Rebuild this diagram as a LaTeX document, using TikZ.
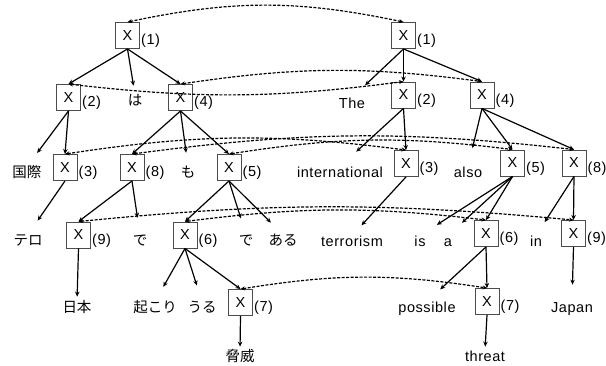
\documentclass[tikz,border=0pt]{standalone}
\usepackage{fontspec}
\setmainfont{Liberation Sans}[LetterSpace=4]
\newfontfamily\jpfont{Noto Sans CJK JP}
\usetikzlibrary{arrows.meta}

\begin{document}
\begin{tikzpicture}[x=1pt,y=1pt,
    every node/.style={font=\fontsize{14.5}{16}\selectfont},
    xbox/.style={draw=black!70,line width=0.9pt,minimum width=24pt,minimum height=26pt,inner sep=0pt},
    num/.style={anchor=south west,inner sep=1pt},
    word/.style={inner sep=0pt,text height=10.4pt,text depth=0pt},
    jword/.style={word,font=\fontsize{14.5}{16}\selectfont\jpfont},
    branch/.style={-{Stealth[length=5pt,width=4.5pt]},line width=1.2pt},
    toword/.style={branch,shorten >=17pt},
    link/.style={{Stealth[length=4.5pt,width=4pt]}-{Stealth[length=4.5pt,width=4pt]},line width=1.2pt,dash pattern=on 3pt off 1.5pt}]
    \useasboundingbox (0,0) rectangle (606,365);
    % Japanese side
    \node[xbox] (X1L) at (127.5,329.5) {X};
    \node[num] (n1L) at (X1L.south east) {(1)};
    \node[xbox] (X2L) at (68.5,267.5) {X};
    \node[num] (n2L) at (X2L.south east) {(2)};
    \node[jword] (wHa) at (135,265) {は};
    \node[xbox] (X4L) at (180.5,267.5) {X};
    \node[num] (n4L) at (X4L.south east) {(4)};
    \node[jword] (wKokusai) at (27,193) {国際};
    \node[xbox] (X3L) at (65,197.5) {X};
    \node[num] (n3L) at (X3L.south east) {(3)};
    \node[xbox] (X8L) at (132,197.5) {X};
    \node[num] (n8L) at (X8L.south east) {(8)};
    \node[jword] (wMo) at (188,193) {も};
    \node[xbox] (X5L) at (229,197.5) {X};
    \node[num] (n5L) at (X5L.south east) {(5)};
    \node[jword] (wTero) at (28,125) {テロ};
    \node[xbox] (X9L) at (78.5,130) {X};
    \node[num] (n9L) at (X9L.south east) {(9)};
    \node[jword] (wDeA) at (140,125) {で};
    \node[xbox] (X6L) at (185,130) {X};
    \node[num] (n6L) at (X6L.south east) {(6)};
    \node[jword] (wDeB) at (246,125) {で};
    \node[jword] (wAru) at (283,125) {ある};
    \node[jword] (wNihon) at (77,58) {日本};
    \node[jword] (wOkori) at (155,58) {起こり};
    \node[jword] (wUru) at (202,58) {うる};
    \node[xbox] (X7L) at (240.5,62.5) {X};
    \node[num] (n7L) at (X7L.south east) {(7)};
    \node[jword] (wKyoui) at (240,9) {脅威};
    % English side
    \node[xbox] (X1R) at (403.5,329.5) {X};
    \node[num] (n1R) at (X1R.south east) {(1)};
    \node[word] (wThe) at (352,262) {The};
    \node[xbox] (X2R) at (403.5,270) {X};
    \node[num] (n2R) at (X2R.south east) {(2)};
    \node[xbox] (X4R) at (482,270) {X};
    \node[num] (n4R) at (X4R.south east) {(4)};
    \node[word] (wIntl) at (340,193) {international};
    \node[xbox] (X3R) at (406,201.5) {X};
    \node[num] (n3R) at (X3R.south east) {(3)};
    \node[word] (wAlso) at (468,193) {also};
    \node[xbox] (X5R) at (512.5,202) {X};
    \node[num] (n5R) at (X5R.south east) {(5)};
    \node[xbox] (X8R) at (574,202) {X};
    \node[num] (n8R) at (X8R.south east) {(8)};
    \node[word] (wTerr) at (352,124) {terrorism};
    \node[word] (wIs) at (420,124) {is};
    \node[word] (wA) at (448,124) {a};
    \node[xbox] (X6R) at (486,131.5) {X};
    \node[num] (n6R) at (X6R.south east) {(6)};
    \node[word] (wIn) at (536,124) {in};
    \node[xbox] (X9R) at (573.5,131.5) {X};
    \node[num] (n9R) at (X9R.south east) {(9)};
    \node[word] (wPoss) at (427,58) {possible};
    \node[xbox] (X7R) at (487,63.5) {X};
    \node[num] (n7R) at (X7R.south east) {(7)};
    \node[word] (wJapan) at (572,58) {Japan};
    \node[word] (wThreat) at (485,9) {threat};
    % tree arrows
    \draw[branch] (X1L.south) -- (X2L.north);
    \draw[toword,shorten >=9pt] (X1L.south) -- (wHa.north);
    \draw[branch] (X1L.south) -- (X4L.north);
    \draw[toword] (X2L.south) -- (wKokusai.north);
    \draw[branch] (X2L.south) -- (X3L.north);
    \draw[branch] (X4L.south) -- (X8L.north);
    \draw[toword,shorten >=14pt] (X4L.south) -- (wMo.north);
    \draw[branch] (X4L.south) -- (X5L.north);
    \draw[toword] (X3L.south) -- (wTero.north);
    \draw[branch] (X8L.south) -- (X9L.north);
    \draw[toword] (X8L.south) -- (wDeA.north);
    \draw[branch] (X5L.south) -- (X6L.north);
    \draw[toword] (X5L.south) -- (wDeB.north);
    \draw[toword] (X5L.south) -- (wAru.north);
    \draw[toword,shorten >=5pt] (X9L.south) -- (wNihon.north);
    \draw[toword] (X6L.south) -- (wOkori.north);
    \draw[toword] (X6L.south) -- (wUru.north);
    \draw[branch] (X6L.south) -- (X7L.north);
    \draw[toword,shorten >=4pt] (X7L.south) -- (wKyoui.north);
    \draw[toword,shorten >=18pt] (X1R.south) -- (wThe.north);
    \draw[branch] (X1R.south) -- (X2R.north);
    \draw[branch] (X1R.south) -- (X4R.north);
    \draw[toword,shorten >=22pt] (X2R.south) -- (wIntl.north);
    \draw[branch] (X2R.south) -- (X3R.north);
    \draw[toword,shorten >=19pt] (X4R.south) -- (wAlso.north);
    \draw[branch] (X4R.south) -- (X5R.north);
    \draw[branch] (X4R.south) -- (X8R.north);
    \draw[toword,shorten >=14pt] (X3R.south) -- (wTerr.north);
    \draw[toword,shorten >=20pt] (X5R.south) -- (wIs.north);
    \draw[toword,shorten >=19pt] (X5R.south) -- (wA.north);
    \draw[branch] (X5R.south) -- (X6R.north);
    \draw[toword,shorten >=16pt] (X8R.south) -- (wIn.north);
    \draw[branch] (X8R.south) -- (X9R.north);
    \draw[toword,shorten >=18pt] (X6R.south) -- (wPoss.north);
    \draw[branch] (X6R.south) -- (X7R.north);
    \draw[toword] (X9R.south) -- (wJapan.north);
    \draw[toword,shorten >=4pt] (X7R.south) -- (wThreat.north);
    % alignment links
    \draw[link] (X1L.north) to[bend left=12] (X1R.north);
    \draw[link] (X2L.north) to[bend right=7] (X2R.north);
    \draw[link] (X4L.north) to[bend left=8] (X4R.north);
    \draw[link] (X3L.north) to[bend left=8] (X3R.north);
    \draw[link] (X8L.north) to[bend left=7] (X8R.north);
    \draw[link] (X5L.north) to[bend left=8] (X5R.north);
    \draw[link] (X9L.north) to[bend left=5.5] (X9R.north);
    \draw[link] (X6L.north) to[bend left=7] (X6R.north);
    \draw[link] (X7L.north) to[bend left=9] (X7R.north);
\end{tikzpicture}
\end{document}
